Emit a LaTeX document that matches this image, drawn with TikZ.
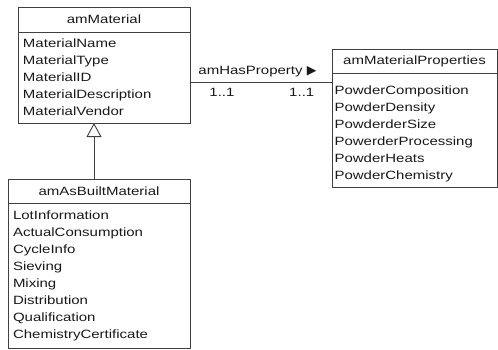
\documentclass[tikz,border=0pt]{standalone}
\usepackage{fontspec}
\setmainfont[FakeStretch=1.25]{Liberation Sans}
\newfontfamily\dejavu{DejaVu Sans}
\usetikzlibrary{arrows.meta}
\usetikzlibrary{positioning}

\definecolor{umlline}{gray}{0.25}
\newcommand{\umlfont}{\fontsize{12}{17}\selectfont}

\begin{document}
\begin{tikzpicture}
[every node/.style={font=\umlfont,text=black!90,outer sep=0pt},x=1pt,y=-1pt,
 classhead/.style={draw=umlline,line width=0.9pt,anchor=north west,inner sep=0pt,minimum height=24pt},
 classbody/.style={draw=umlline,line width=0.9pt,anchor=north west,align=left,inner xsep=5pt,inner ysep=0pt}]

\useasboundingbox (0,0) rectangle (498,349);

% class boxes: name on top, attributes below
\node[classhead,minimum width=172pt,minimum height=25pt] (amMaterialHead) at (18,7) {amMaterial};
\node[classbody,text width=162pt,minimum height=91pt] (amMaterialBody) at (amMaterialHead.south west)
	{MaterialName\\MaterialType\\MaterialID\\MaterialDescription\\MaterialVendor};

\node[classhead,minimum width=165pt] (amPropsHead) at (332,49) {amMaterialProperties};
\node[classbody,text width=160pt,inner xsep=2.5pt,minimum height=114pt] (amPropsBody) at (amPropsHead.south west)
	{\rule{0pt}{17pt}PowderComposition\\PowderDensity\\PowderderSize\\PowerderProcessing\\PowderHeats\\PowderChemistry};

\node[classhead,minimum width=182pt] (amAsBuiltHead) at (8,179) {amAsBuiltMaterial};
\node[classbody,text width=172pt,minimum height=145pt] (amAsBuiltBody) at (amAsBuiltHead.south west)
	{LotInformation\\ActualConsumption\\CycleInfo\\Sieving\\Mixing\\Distribution\\Qualification\\ChemistryCertificate};

\coordinate (genX) at (94,0);
\coordinate (hasPropY) at (0,82.5);

% generalization
\draw[umlline,line width=0.9pt,-{Triangle[open,length=14pt,width=15pt]}]
	(amAsBuiltHead.north -| genX) -- (amMaterialBody.south -| genX);

% association
\draw[umlline,line width=0.9pt] (amMaterialBody.east |- hasPropY)
	-- node[pos=.475,above=2pt] {amHasProperty {\dejavu\fontsize{12.5}{12}\selectfont ▶}}
	   node[pos=.225,below=2pt] {1..1}
	   node[pos=.787,below=2pt] {1..1}
	(amPropsBody.west |- hasPropY);

\end{tikzpicture}
\end{document}
